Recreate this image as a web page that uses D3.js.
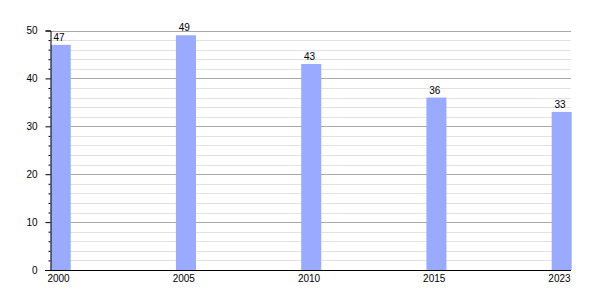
<!DOCTYPE html>
<html>
<head>
  <meta charset="utf-8">
  <title>Bar chart</title>
  <script src="https://cdnjs.cloudflare.com/ajax/libs/d3/7.8.5/d3.min.js"></script>
<style>
body { margin: 0; background: white; font: 10px "Liberation Sans", Arial, sans-serif; }
text { fill: black; }
</style>
</head>
<body>
<svg width="600" height="300"></svg>
<script>
// data
var years = ["2000", "2005", "2010", "2015", "2023"];
var values = [47, 49, 43, 36, 33];
var majorTicks = [0, 10, 20, 30, 40, 50];
var minorTicks = [2, 4, 6, 8, 12, 14, 16, 18, 22, 24, 26, 28, 32, 34, 36, 38, 42, 44, 46, 48];

var svg = d3.select("svg");

var xScale = d3.scaleBand()
    .domain(years)
    .range([50, 571])
    .paddingInner(0.84)
    .paddingOuter(0);

var yScale = d3.scaleLinear()
    .domain([0, 50])
    .range([270, 30.5]);

// grid lines, minor first then major
svg.append("g").selectAll("line")
  .data(minorTicks)
  .enter().append("line")
    .attr("x1", 50).attr("x2", 571)
    .attr("y1", function(d) { return Math.round(yScale(d)) + 0.5; })
    .attr("y2", function(d) { return Math.round(yScale(d)) + 0.5; })
    .attr("stroke", "#e2e2e2")
    .attr("stroke-width", 1);

svg.append("g").selectAll("line")
  .data(majorTicks.slice(1))
  .enter().append("line")
    .attr("x1", 50).attr("x2", 571)
    .attr("y1", function(d) { return Math.round(yScale(d)) + 0.5; })
    .attr("y2", function(d) { return Math.round(yScale(d)) + 0.5; })
    .attr("stroke", "#a8a8a8")
    .attr("stroke-width", 1);

// bars
svg.append("g").selectAll("rect")
  .data(values)
  .enter().append("rect")
    .attr("x", function(d, i) { return xScale(years[i]) + 0.7; })
    .attr("y", function(d) { return yScale(d); })
    .attr("width", xScale.bandwidth())
    .attr("height", function(d) { return yScale(0) - yScale(d); })
    .attr("fill", "#99aaff");

// value labels
svg.append("g").selectAll("text")
  .data(values)
  .enter().append("text")
    .attr("x", function(d, i) { return xScale(years[i]) + xScale.bandwidth() / 2 - 1; })
    .attr("y", function(d) { return yScale(d) - 4; })
    .attr("text-anchor", "middle")
    .attr("font-size", "10px")
    .text(function(d) { return d; });

// y axis, major and minor ticks
var yAxis = d3.axisLeft(yScale)
    .tickValues(majorTicks)
    .tickSize(5)
    .tickPadding(8)
    .tickFormat(d3.format("d"));
var yg = svg.append("g")
    .attr("transform", "translate(50.5, 0)")
    .call(yAxis);
yg.selectAll("text").attr("font-size", "10px").attr("font-family", "Liberation Sans, Arial, sans-serif");
yg.select(".domain").attr("stroke", "black");
yg.selectAll(".tick line").attr("stroke", "black");

var yMinor = d3.axisLeft(yScale)
    .tickValues(minorTicks)
    .tickSize(2)
    .tickFormat("");
var ym = svg.append("g")
    .attr("transform", "translate(50.5, 0)")
    .call(yMinor);
ym.select(".domain").remove();

// x axis line and year labels
svg.append("line")
    .attr("x1", 45).attr("x2", 571)
    .attr("y1", 270.5).attr("y2", 270.5)
    .attr("stroke", "black");

svg.append("g").selectAll("text")
  .data(years)
  .enter().append("text")
    .attr("x", function(d) { return xScale(d) + xScale.bandwidth() / 2 - 1.5; })
    .attr("y", 282)
    .attr("text-anchor", "middle")
    .attr("font-size", "10px")
    .text(function(d) { return d; });
</script>
</body>
</html>
